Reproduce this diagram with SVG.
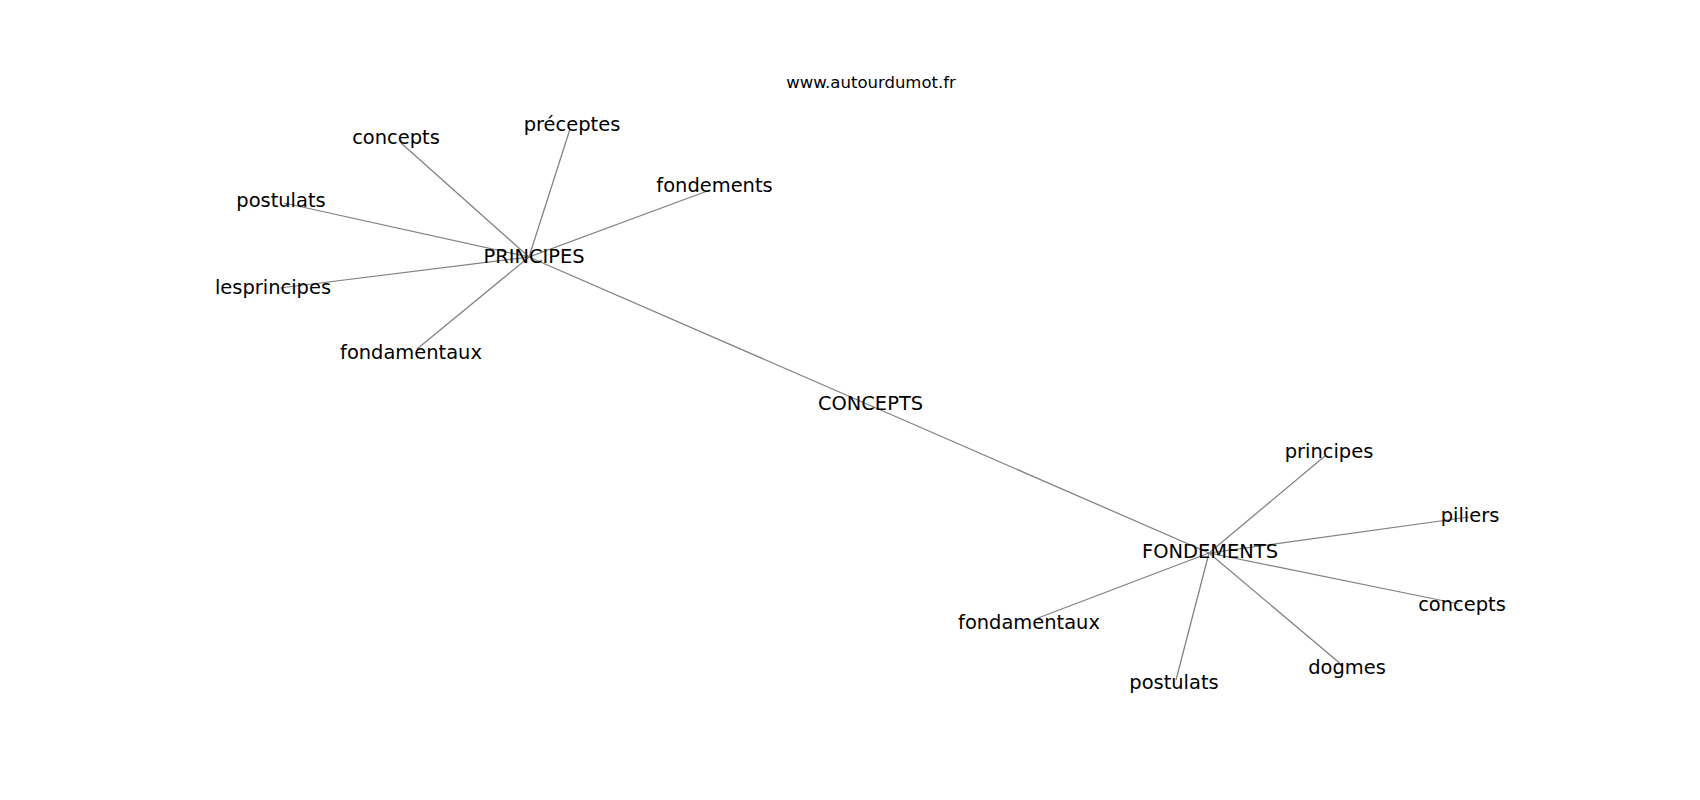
<svg xmlns="http://www.w3.org/2000/svg" width="1700" height="800" viewBox="0 0 1700 800">
<style>
.e{stroke:#808080;stroke-width:1.25;fill:none}
text{font-family:"DejaVu Sans","Liberation Sans",sans-serif;font-size:19.44px;fill:#000;text-anchor:middle}
.u{font-size:16.5px}
</style>
<rect width="1700" height="800" fill="#fff"/>
<g id="connectors">
<line class="e" x1="529" y1="257" x2="868" y2="404.5"/>
<line class="e" x1="868" y1="404.5" x2="1209" y2="553"/>
<line class="e" x1="529" y1="257" x2="401" y2="143"/>
<line class="e" x1="529" y1="257" x2="570" y2="129"/>
<line class="e" x1="529" y1="257" x2="710" y2="190"/>
<line class="e" x1="529" y1="257" x2="284" y2="203"/>
<line class="e" x1="529" y1="257" x2="280" y2="288"/>
<line class="e" x1="529" y1="257" x2="417" y2="349"/>
<line class="e" x1="1209" y1="553" x2="1325" y2="456"/>
<line class="e" x1="1209" y1="553" x2="1469" y2="517"/>
<line class="e" x1="1209" y1="553" x2="1459" y2="604"/>
<line class="e" x1="1209" y1="553" x2="1342" y2="665"/>
<line class="e" x1="1209" y1="553" x2="1176" y2="680"/>
<line class="e" x1="1209" y1="553" x2="1038" y2="618"/>
</g>
<g id="title"><text class="u" x="871" y="88">www.autourdumot.fr</text></g>
<g id="n-principes-hub"><text x="534" y="263">PRINCIPES</text></g>
<g id="n-concepts-hub"><text x="870.5" y="410">CONCEPTS</text></g>
<g id="n-fondements-hub"><text x="1210" y="557.5">FONDEMENTS</text></g>
<g id="n-concepts-l"><text x="396" y="144">concepts</text></g>
<g id="n-preceptes"><text x="572" y="131">préceptes</text></g>
<g id="n-fondements-l"><text x="714.5" y="192">fondements</text></g>
<g id="n-postulats-l"><text x="281" y="207">postulats</text></g>
<g id="n-lesprincipes"><text x="273" y="294">lesprincipes</text></g>
<g id="n-fondamentaux-l"><text x="411" y="359">fondamentaux</text></g>
<g id="n-principes-r"><text x="1329" y="458">principes</text></g>
<g id="n-piliers"><text x="1470" y="522">piliers</text></g>
<g id="n-concepts-r"><text x="1462" y="611">concepts</text></g>
<g id="n-fondamentaux-r"><text x="1029" y="628.5">fondamentaux</text></g>
<g id="n-dogmes"><text x="1347" y="674">dogmes</text></g>
<g id="n-postulats-r"><text x="1174" y="689">postulats</text></g>
</svg>
